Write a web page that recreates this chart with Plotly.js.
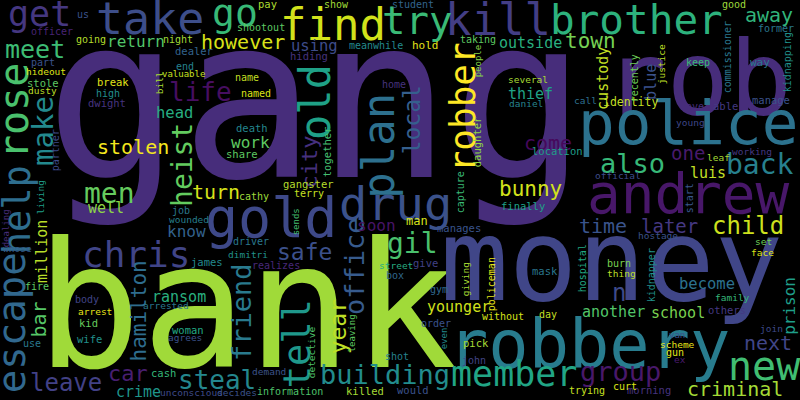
<!DOCTYPE html>
<html>
<head>
<meta charset="utf-8">
<script src="https://cdn.plot.ly/plotly-3.0.1.min.js"></script>
<style>
  html, body { margin: 0; padding: 0; background: #000; }
</style>
</head>
<body>
<div id="cloud" style="width:800px;height:400px"></div>
<script>

// words of the cloud and their weight (weight = font size in px)
const words = [
  'gang','bank','money','rob','robbery','police','andrew','gold','drug','take',
  'find','kill','plan','old','brother','new','rose','try','go','escape',
  'help','tell','chris','make','robber','member','get','men','gil','back',
  'building','also','group','heist','friend','office','life','steal','meet','leave',
  'child','n','safe','local','year','car','city','turn','town','hamilton',
  'bunny','away','stolen','however','come','bar','time','next','criminal','one',
  'later','return','work','soon','know','prison','head','using','become','outside',
  'thief','luis','well','million','ransom','crime','custody','blue','younger','another',
  'school','man','identity','hold','share','way','pay','stole','break','dwight',
  'dealer','hiding','death','gangster','location','able','manage','together','daughter','kid',
  'woman','wife','cash','james','give','finally','manages','mask','pick','would',
  'killed','others','morning','us','officer','going','night','part','end','high',
  'show','shootout','meanwhile','name','named','home','terry','cathy','student','taking',
  'capture','good','former','keep','save','recently','commissioner','kidnapping','start','partner',
  'job','fire','body','use','driver','realizes','box','shot','information','gym',
  'without','day','order','john','trying','burn','gun','curt','kidnapper','hospital',
  'policeman','hideout','dusty','valuable','bill','several','daniel','call','young','leaf',
  'working','official','justice','living','whose','arrested','arrest','wounded','agrees','unconscious',
  'decides','demand','dimitri','street','giving','detective','hostage','set','face','thing',
  'family','join','scheme','ex','people','sends','leaving','even','dealing','van'
];

const weights = [
  225, 175, 114, 104, 67, 61, 56, 55, 47, 45,
  44, 44, 44, 42, 41, 40, 40, 39, 38, 39,
  37, 37, 36, 29, 36, 35, 35, 28, 28, 28,
  27, 27, 27, 28, 27, 27, 26, 26, 25, 24,
  24, 24, 23, 23, 23, 22, 22, 20, 21, 21,
  21, 20, 20, 20, 20, 20, 20, 20, 20, 19,
  19, 16, 16, 16, 16, 16, 15.5, 15.5, 15.5, 15,
  15, 15, 15, 15, 15, 15, 15, 15, 15, 15,
  15, 12, 11.5, 11, 10.5, 11, 10.5, 10.5, 10.5, 10.5,
  10.5, 10.5, 10.5, 10.5, 10.5, 10.5, 10.5, 10.5, 10.5, 10.5,
  10.5, 10.5, 10.5, 10.5, 10.5, 10.5, 10.5, 10.5, 10.5, 10.5,
  10.5, 10.5, 10.5, 10, 10, 10, 10, 10, 10, 10,
  10, 10, 10, 10, 10, 10, 10, 10, 10, 10,
  10, 10, 10, 10, 10, 10, 10, 10, 10, 10,
  10, 10, 10, 10, 10, 10, 10, 10, 10, 10,
  10, 10, 10, 10, 10, 10, 10, 10, 10, 10,
  10, 9.5, 9.5, 9, 9.5, 9.5, 9.5, 9.5, 9.5, 9.5,
  9.5, 9.5, 9.5, 9.5, 9.5, 9.5, 9.5, 9.5, 9.5, 9.5,
  9.5, 9.5, 9.5, 9.5, 9.5, 9.5, 9.5, 9.5, 9.5, 9.5,
  9.5, 9.5, 9.5, 9.5, 9, 9, 9, 9, 9, 9
];

// where each word sits (x, y of the x-height middle), upright flag, colour
const spots = {
  gang: [316, 115, 0, '#472d7b'], bank: [246, 319, 0, '#a0da39'],
  money: [611, 269, 0, '#404688'], rob: [698, 87, 0, '#472d7b'],
  robbery: [589, 350, 0, '#287c8e'], police: [688, 127, 0, '#2c728e'],
  andrew: [688, 198, 0, '#481769'], gold: [271, 222, 0, '#3e4989'],
  drug: [395, 207, 0, '#3b528b'], take: [150, 22, 0, '#3d4e8a'],
  find: [333, 28, 0, '#d2e21b'], kill: [498, 23, 0, '#433e85'],
  plan: [381, 146, 1, '#2d708e'], old: [318, 102, 1, '#1fa187'],
  brother: [636, 23, 0, '#2db27d'], new: [764, 369, 0, '#40bd72'],
  rose: [17, 111, 1, '#4ac16d'], try: [417, 23, 0, '#3aba76'],
  go: [235, 16, 0, '#38b977'], escape: [14, 323, 1, '#31688e'],
  help: [20, 210, 1, '#2e6e8e'], tell: [300, 344, 1, '#1f988b'],
  chris: [136, 257, 0, '#404588'], make: [45, 131, 1, '#23898e'],
  robber: [465, 107, 1, '#fde725'], member: [514, 377, 0, '#21a585'],
  get: [39, 17, 0, '#453781'], men: [109, 196, 0, '#65cb5e'],
  gil: [412, 246, 0, '#4ac16d'], back: [760, 167, 0, '#27808e'],
  building: [385, 376, 0, '#228c8d'], also: [632, 165, 0, '#37b878'],
  group: [620, 373, 0, '#48186a'], heist: [184, 165, 1, '#63cb5f'],
  friend: [243, 312, 1, '#297a8e'], office: [356, 266, 1, '#375b8d'],
  life: [200, 94, 0, '#470e61'], steal: [217, 382, 0, '#24878e'],
  meet: [35, 51, 0, '#3dbc74'], leave: [66, 385, 0, '#424186'],
  child: [748, 228, 0, '#cde11d'], n: [619, 295, 0, '#3e4a89'],
  safe: [304, 254, 0, '#3c508b'], local: [414, 120, 1, '#355f8d'],
  year: [340, 327, 1, '#bddf26'], car: [128, 375, 0, '#481f70'],
  city: [311, 162, 1, '#46307e'], turn: [216, 193, 0, '#d5e21a'],
  town: [590, 43, 0, '#75d054'], hamilton: [141, 311, 1, '#2e6d8e'],
  bunny: [530, 191, 0, '#d2e21b'], away: [769, 16, 0, '#31b57b'],
  stolen: [133, 148, 0, '#f4e61e'], however: [243, 43, 0, '#d8e219'],
  come: [548, 144, 0, '#46085c'], bar: [40, 320, 1, '#56c667'],
  time: [603, 227, 0, '#3a548c'], next: [768, 344, 0, '#404688'],
  criminal: [735, 390, 0, '#a5db36'], one: [688, 154, 0, '#481a6c'],
  later: [669, 227, 0, '#453882'], return: [136, 43, 0, '#52c569'],
  work: [250, 144, 0, '#5ec962'], soon: [376, 227, 0, '#471466'],
  know: [186, 233, 0, '#33628d'], prison: [790, 306, 1, '#1f9e89'],
  head: [174, 114, 0, '#27ad81'], using: [314, 47, 0, '#3e4c8a'],
  become: [707, 285, 0, '#2c728e'], outside: [530, 44, 0, '#29af7f'],
  thief: [530, 95, 0, '#20a386'], luis: [708, 174, 0, '#c0df25'],
  well: [106, 209, 0, '#8ed645'], million: [43, 251, 1, '#b8de29'],
  ransom: [179, 298, 0, '#29af7f'], crime: [138, 393, 0, '#1f958b'],
  custody: [604, 78, 1, '#c2df23'], blue: [652, 82, 1, '#3b528b'],
  younger: [458, 308, 0, '#d0e11c'], another: [613, 313, 0, '#52c569'],
  school: [678, 314, 0, '#7ad151'], man: [417, 222, 0, '#d8e219'],
  identity: [630, 103, 0, '#c2df23'], hold: [425, 46, 0, '#e5e419'],
  share: [242, 155, 0, '#5ec962'], way: [760, 63, 0, '#2a788e'],
  pay: [267, 5, 0, '#addc30'], stole: [43, 84, 0, '#5ec962'],
  break: [113, 83, 0, '#e2e418'], dwight: [107, 104, 0, '#46337e'],
  dealer: [194, 52, 0, '#33638d'], hiding: [309, 57, 0, '#46327e'],
  death: [252, 129, 0, '#24868e'], gangster: [308, 185, 0, '#b5de2b'],
  location: [557, 152, 0, '#1f9e89'], able: [725, 107, 0, '#443983'],
  manage: [771, 101, 0, '#3b528b'], together: [328, 152, 1, '#44bf70'],
  daughter: [478, 142, 1, '#8fd744'], kid: [88, 324, 0, '#66cb5d'],
  woman: [188, 331, 0, '#22a884'], wife: [89, 340, 0, '#21918c'],
  cash: [163, 374, 0, '#35b779'], james: [207, 263, 0, '#23898e'],
  give: [425, 264, 0, '#424186'], finally: [523, 207, 0, '#1fa088'],
  manages: [459, 229, 0, '#3a548c'], mask: [545, 272, 0, '#2a768e'],
  pick: [476, 344, 0, '#a5db36'], would: [413, 391, 0, '#3b528b'],
  killed: [365, 392, 0, '#a5db36'], others: [727, 311, 0, '#443983'],
  morning: [649, 391, 0, '#46337e'], us: [83, 15, 0, '#3b528b'],
  officer: [52, 32, 0, '#482475'], going: [91, 40, 0, '#b5de2b'],
  night: [178, 40, 0, '#a2da37'], part: [43, 63, 0, '#3b528b'],
  end: [185, 67, 0, '#26828e'], high: [108, 94, 0, '#228d8d'],
  show: [336, 5, 0, '#a0da39'], shootout: [261, 28, 0, '#5ec962'],
  meanwhile: [376, 46, 0, '#23898e'], name: [247, 78, 0, '#c2df23'],
  named: [256, 94, 0, '#dde318'], home: [394, 85, 0, '#46337e'],
  terry: [309, 194, 0, '#c8e020'], cathy: [254, 197, 0, '#9fda3a'],
  student: [413, 5, 0, '#33638d'], taking: [478, 40, 0, '#5ec962'],
  capture: [461, 192, 1, '#3aba76'], good: [734, 5, 0, '#9fda3a'],
  former: [776, 29, 0, '#2a788e'], keep: [698, 63, 0, '#3aba76'],
  save: [692, 107, 0, '#472d7b'], recently: [635, 78, 1, '#6ece58'],
  commissioner: [728, 57, 1, '#2a788e'], kidnapping: [788, 62, 1, '#21918c'],
  start: [690, 198, 1, '#39568c'], partner: [56, 150, 1, '#3e4a89'],
  job: [181, 211, 0, '#2a788e'], fire: [37, 287, 0, '#5ec962'],
  body: [87, 300, 0, '#414487'], use: [32, 344, 0, '#2a788e'],
  driver: [251, 242, 0, '#2a788e'], realizes: [276, 266, 0, '#482878'],
  box: [395, 276, 0, '#31688e'], shot: [397, 357, 0, '#26828e'],
  information: [290, 392, 0, '#4ec36b'], gym: [439, 290, 0, '#31688e'],
  without: [503, 317, 0, '#d8e219'], day: [548, 315, 0, '#c2df23'],
  order: [436, 324, 0, '#3b528b'], john: [474, 361, 0, '#414487'],
  trying: [587, 391, 0, '#c8e020'], burn: [619, 264, 0, '#7ad151'],
  gun: [675, 353, 0, '#e2e418'], curt: [625, 387, 0, '#dde318'],
  kidnapper: [652, 275, 1, '#21918c'], hospital: [583, 268, 1, '#22a884'],
  policeman: [492, 284, 1, '#e5e419'], hideout: [46, 72, 0, '#dde318'],
  dusty: [42, 91, 0, '#bddf26'], valuable: [183, 75, 0, '#c8e020'],
  bill: [160, 83, 1, '#a8db34'], several: [528, 80, 0, '#a8db34'],
  daniel: [526, 104, 0, '#26828e'], call: [585, 101, 0, '#2e6f8e'],
  young: [690, 123, 0, '#3f4788'], leaf: [718, 158, 0, '#a5db36'],
  working: [752, 152, 0, '#453882'], official: [618, 176, 0, '#3e4c8a'],
  justice: [662, 64, 1, '#bddf26'], living: [41, 197, 1, '#1f9e89'],
  whose: [17, 249, 0, '#365c8d'], arrested: [166, 306, 0, '#2a788e'],
  arrest: [95, 312, 0, '#e7e419'], wounded: [189, 220, 0, '#277f8e'],
  agrees: [185, 338, 0, '#3b528b'], unconscious: [191, 393, 0, '#3e4a89'],
  decides: [237, 393, 0, '#3b528b'], demand: [269, 372, 0, '#3b528b'],
  dimitri: [248, 255, 0, '#21918c'], street: [396, 266, 0, '#27ad81'],
  giving: [466, 279, 1, '#a8db34'], detective: [312, 352, 1, '#4ec36b'],
  hostage: [658, 236, 0, '#3b528b'], set: [763, 242, 0, '#6ece58'],
  face: [762, 253, 0, '#dde318'], thing: [621, 274, 0, '#bddf26'],
  family: [732, 298, 0, '#35b779'], join: [771, 329, 0, '#3e4a89'],
  scheme: [677, 345, 0, '#e7e419'], ex: [680, 360, 0, '#481a6c'],
  people: [479, 61, 1, '#86d549'], sends: [297, 222, 1, '#44bf70'],
  leaving: [353, 333, 1, '#5ec962'], even: [445, 338, 1, '#23898e'],
  dealing: [7, 228, 1, '#472d7b'], van: [677, 336, 0, '#3b528b']
};

const FONT = 'DejaVu Sans Mono';

// the text box centre sits a bit above the middle of the x-height
const annotations = words.map((w, i) => {
    const [x, y, up, color] = spots[w];
    const size = weights[i];
    const shift = 0.073 * size;
    return {
        x: up ? x - shift : x,
        y: up ? y : y - shift,
        xref: 'x',
        yref: 'y',
        text: w,
        showarrow: false,
        textangle: up ? -90 : 0,
        xanchor: 'center',
        yanchor: 'middle',
        borderpad: 0,
        font: { family: FONT, size: size, color: color }
    };
});

const hidden = {
    visible: false,
    showgrid: false,
    zeroline: false,
    fixedrange: true
};

const layout = {
    width: 800,
    height: 400,
    margin: { l: 0, r: 0, t: 0, b: 0 },
    paper_bgcolor: '#000',
    plot_bgcolor: '#000',
    showlegend: false,
    xaxis: { ...hidden, range: [0, 800] },
    yaxis: { ...hidden, range: [400, 0] },
    annotations: annotations
};

Plotly.newPlot('cloud', [{ x: [], y: [], type: 'scatter', hoverinfo: 'none' }], layout, { staticPlot: true });

</script>
</body>
</html>
